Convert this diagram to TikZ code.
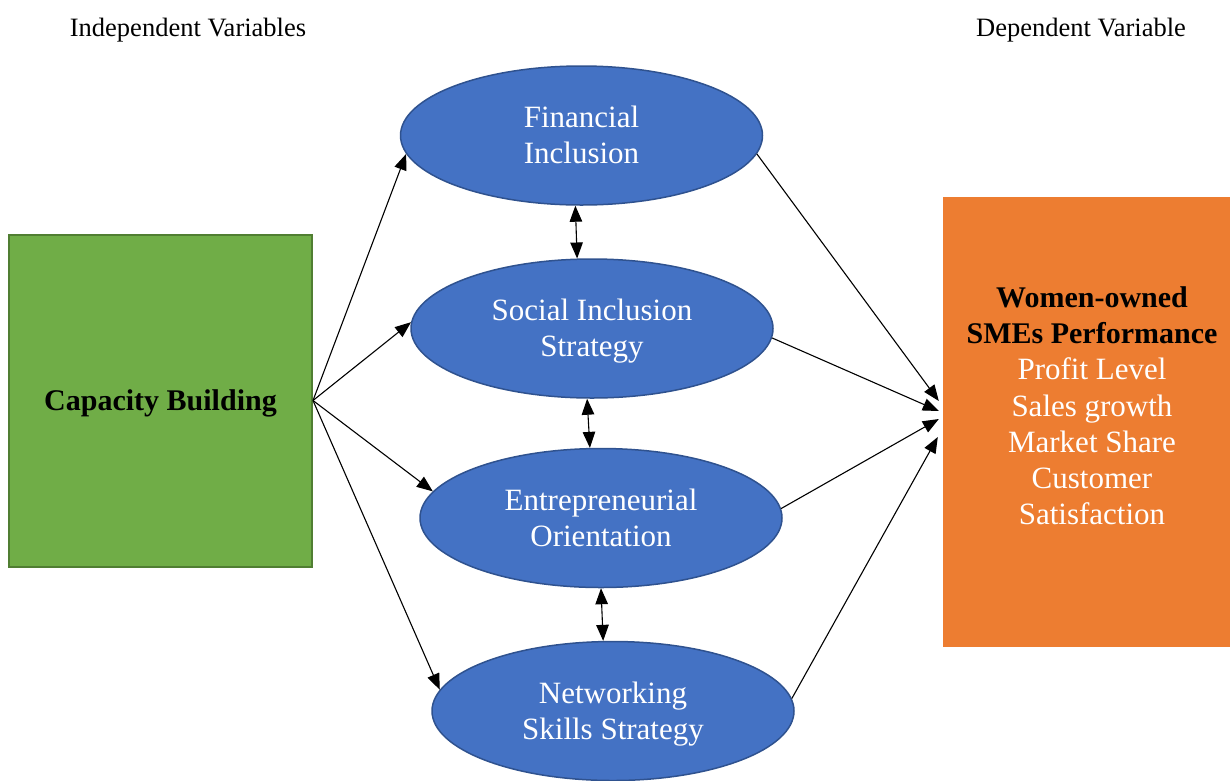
\documentclass[tikz,border=0pt]{standalone}
\usepackage{fontspec}
\setmainfont{Liberation Serif}
\usetikzlibrary{shapes.geometric,arrows.meta,calc}

\definecolor{cbgreen}{HTML}{70AD47}
\definecolor{cbgreenline}{HTML}{507E32}
\definecolor{dvorange}{HTML}{ED7D31}
\definecolor{ivblue}{HTML}{4472C4}
\definecolor{ivblueline}{HTML}{2F528F}

% line strut so that every text line has the same height and depth
\newcommand\lnstrut{\rule[-7pt]{0pt}{34pt}}

\tikzset{
  ivellipse/.style={ellipse, fill=ivblue, draw=ivblueline, line width=1.5pt,
    minimum width=362pt, minimum height=139pt, inner sep=0pt, align=center,
    text=white, font=\fontsize{31}{36}\selectfont},
  headtext/.style={font=\fontsize{26.5}{30}\selectfont, anchor=base, inner sep=0pt},
  tip/.tip={Triangle[length=16pt,width=12.5pt]},
  link/.style={line width=1.1pt, -tip},
  biLink/.style={line width=1.1pt, tip-tip},
}

\begin{document}
\begin{tikzpicture}[x=1pt,y=-1pt]
\useasboundingbox (0,0) rectangle (1230,780);

% column headings
\node[headtext] (hIndep) at (188,36) {Independent Variables};
\node[headtext] (hDep) at (1081,36) {Dependent Variable};

% independent variable
\node[rectangle, fill=cbgreen, draw=cbgreenline, line width=2pt,
      minimum width=303pt, minimum height=332pt, inner sep=0pt,
      font=\fontsize{30}{36}\selectfont\bfseries] (cb) at (160.5,400.5)
      {\lnstrut Capacity Building};

% mediating variables
\node[ivellipse] (fi) at (581.5,135.5) {\lnstrut Financial\\\lnstrut Inclusion};
\node[ivellipse] (si) at (592,328.5) {\lnstrut Social Inclusion\\\lnstrut Strategy};
\node[ivellipse] (eo) at (601,518) {\lnstrut Entrepreneurial\\\lnstrut Orientation};
\node[ivellipse] (ns) at (613,711) {\lnstrut Networking\\\lnstrut Skills Strategy};

% dependent variable
\node[rectangle, fill=dvorange, minimum width=298pt, minimum height=450pt,
      inner sep=0pt] (dv) at (1092,422) {};
\node[align=center, inner sep=0pt, text=white,
      font=\fontsize{31}{36.3}\selectfont] (dvtext) at (1092,406)
  {\textcolor{black}{\fontsize{30}{36.3}\selectfont\bfseries\lnstrut Women-owned}\\
   \textcolor{black}{\fontsize{30}{36.3}\selectfont\bfseries\lnstrut SMEs Performance}\\
   \lnstrut Profit Level\\
   \lnstrut Sales growth\\
   \lnstrut Market Share\\
   \lnstrut Customer\\
   \lnstrut Satisfaction};

% arrow end points on the dependent variable box
\coordinate (t1) at ($(dv.west)+(-4,-21)$);
\coordinate (t2) at ($(dv.west)+(-4,-11)$);
\coordinate (t3) at ($(dv.west)+(-4,-3)$);
\coordinate (t4) at ($(dv.west)+(-5,15)$);

% capacity building to each mediator
\draw[link] (cb.east) -- (fi.186.7);
\draw[link] (cb.east) -- (si.178.9);
\draw[link] (cb.east) -- (eo.171.3);
\draw[link] (cb.east) -- (ns.173.6);

% links between neighbouring mediators
\draw[biLink] (fi.265.5) -- (si.102.2);
\draw[biLink] (si.266.7) -- (eo.99.8);
\draw[biLink] (eo.270.8) -- (ns.98.2);

% mediators to performance
\draw[link] (fi.354.4) -- (t1);
\draw[link] (si.357.6) -- (t2);
\draw[link] (eo.3.5) -- (t3);
\draw[link] (ns.4.6) -- (t4);
\end{tikzpicture}
\end{document}
